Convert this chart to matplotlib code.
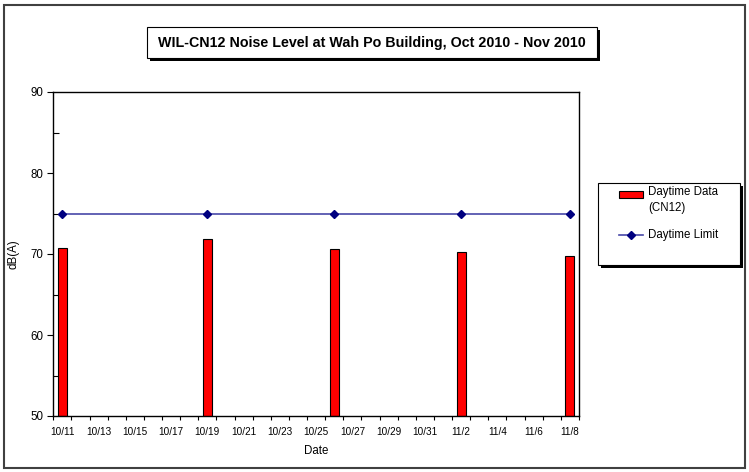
import numpy as np
import pandas as pd
import matplotlib
matplotlib.use("Agg")
import matplotlib.pyplot as plt
from matplotlib.patches import Rectangle
from matplotlib.lines import Line2D

plt.rcParams['font.family'] = ['Liberation Sans', 'DejaVu Sans']

# data
meas_dates = ["2010-10-11", "2010-10-19", "2010-10-26", "2010-11-02", "2010-11-08"]
daytime_data = [70.7, 71.8, 70.6, 70.3, 69.8]
daytime_limit = [75, 75, 75, 75, 75]
axis_start, axis_end = "2010-10-11", "2010-11-08"

days = pd.date_range(axis_start, axis_end, freq="D")
tick_labels = [f"{d.month}/{d.day}" for d in days[::2]]
x = [(pd.Timestamp(d) - days[0]).days for d in meas_dates]
n = len(days)

W, H = 749, 472
fig = plt.figure(figsize=(W / 100, H / 100), dpi=100)
ax = fig.add_axes([53.3 / W, 1 - 416 / H, (579 - 53.3) / W, (416 - 92) / H])

ax.bar(x, [v - 50 for v in daytime_data], bottom=50, width=0.5, color="#ff0000",
       edgecolor="black", linewidth=0.8, zorder=2)
ax.plot(x, daytime_limit, color="#4848a8", lw=1.2, marker="D", ms=4,
        mfc="#000080", mec="#000080", zorder=3)

ax.set_xlim(-0.5, n - 0.5)
ax.set_ylim(50, 90)
ax.set_yticks(np.arange(50, 91, 10))
ax.set_yticks(np.arange(55, 90, 10), minor=True)
ax.tick_params(axis="y", which="major", direction="out", length=4, width=0.8, labelsize=8.3, pad=3)
ax.tick_params(axis="y", which="minor", direction="in", length=4, width=0.8)

ax.set_xticks(np.arange(-0.5, n, 1))
ax.set_xticklabels([])
ax.set_xticks(np.arange(0, n, 2), minor=True)
ax.set_xticklabels(tick_labels, minor=True)
ax.tick_params(axis="x", which="major", direction="out", length=3, width=0.8)
ax.tick_params(axis="x", which="minor", length=0, labelsize=7.2, pad=8)

for s in ax.spines.values():
    s.set_linewidth(1.0)

ax.set_xlabel("Date", fontsize=8.3, labelpad=6)
ax.set_ylabel("dB(A)", fontsize=8.3, labelpad=8)

# outer border
fig.patches.append(Rectangle((4 / W, 4 / H), 741 / W, 463 / H, transform=fig.transFigure,
                             fill=False, edgecolor="#404040", lw=1.5))

def shadow_box(x0, y0, x1, y1):
    # box in pixel coords (top-left origin) with black drop shadow
    fig.patches.append(Rectangle(((x0 + 3) / W, 1 - (y1 + 3) / H), (x1 - x0) / W, (y1 - y0) / H,
                                 transform=fig.transFigure, facecolor="black", edgecolor="black", lw=0))
    fig.patches.append(Rectangle((x0 / W, 1 - y1 / H), (x1 - x0) / W, (y1 - y0) / H,
                                 transform=fig.transFigure, facecolor="white", edgecolor="black", lw=0.8))

shadow_box(147, 27, 597, 58)
fig.text(372 / W, 1 - 43 / H, "WIL-CN12 Noise Level at Wah Po Building, Oct 2010 - Nov 2010",
         ha="center", va="center", fontsize=10.3, fontweight="bold")

# legend
shadow_box(598, 183, 740, 265)
fig.patches.append(Rectangle((619 / W, 1 - 198 / H), 24 / W, 7 / H, transform=fig.transFigure,
                             facecolor="#ff0000", edgecolor="black", lw=0.8))
fig.text(648 / W, 1 - 192 / H, "Daytime Data", fontsize=8.3, va="center")
fig.text(648 / W, 1 - 208 / H, "(CN12)", fontsize=8.3, va="center")
fig.lines.append(Line2D([619 / W, 643 / W], [1 - 235 / H, 1 - 235 / H], transform=fig.transFigure,
                        color="#4848a8", lw=1.2))
fig.lines.append(Line2D([631 / W], [1 - 235 / H], transform=fig.transFigure, marker="D", ms=4,
                        mfc="#000080", mec="#000080"))
fig.text(648 / W, 1 - 235 / H, "Daytime Limit", fontsize=8.3, va="center")

fig.savefig("out.png", dpi=100)
